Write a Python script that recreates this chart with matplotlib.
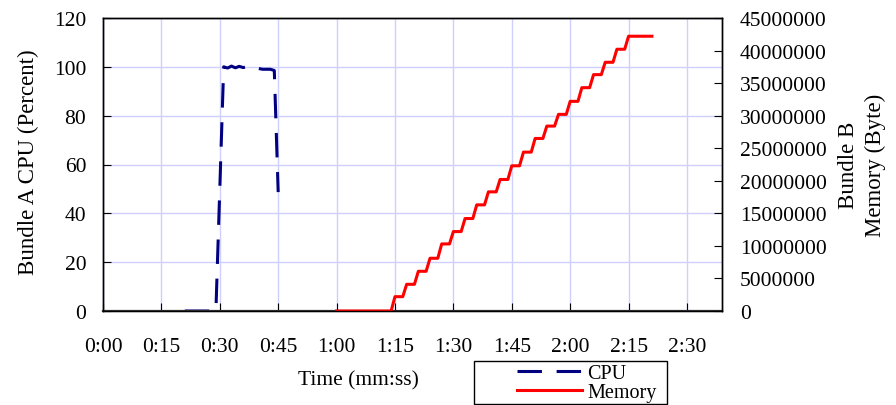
import matplotlib
matplotlib.use('Agg')
import matplotlib.pyplot as plt
import matplotlib.patches as mpatches

plt.rcParams['font.family'] = ['Liberation Serif', 'DejaVu Serif']
plt.rcParams['font.size'] = 15.5

# time axis (seconds) and labels
time_ticks = [0, 15, 30, 45, 60, 75, 90, 105, 120, 135, 150]
time_labels = ['0:00', '0:15', '0:30', '0:45', '1:00', '1:15', '1:30',
               '1:45', '2:00', '2:15', '2:30']

# Bundle A CPU (percent), one sample per second
cpu_time = [21, 22, 23, 24, 25, 26, 27, 28, 29, 30, 31, 32, 33, 34, 35, 36,
            37, 38, 39, 40, 41, 42, 43, 44, 45]
cpu_percent = [0, 0, 0, 0, 0, 0, 0, 0, 0, 50, 100, 99.5, 100.3, 99.6, 100.2,
               99.7, 100, 100, 100.3, 99.3, 99, 99, 99, 98.5, 48.7]

# Bundle B memory (bytes), one sample per second from 1:00
mem_time = list(range(60, 142))
mem_bytes = [
    0, 0, 0, 0, 0, 0, 0, 0, 0, 0, 0, 0, 0, 0, 0,
    2.2e6, 2.2e6, 2.2e6, 4.1e6, 4.1e6, 4.1e6, 6.1e6, 6.1e6, 6.1e6,
    8.1e6, 8.1e6, 8.1e6, 10.3e6, 10.3e6, 10.3e6, 12.2e6, 12.2e6, 12.2e6,
    14.2e6, 14.2e6, 14.2e6, 16.3e6, 16.3e6, 16.3e6, 18.3e6, 18.3e6, 18.3e6,
    20.2e6, 20.2e6, 20.2e6, 22.3e6, 22.3e6, 22.3e6, 24.4e6, 24.4e6, 24.4e6,
    26.5e6, 26.5e6, 26.5e6, 28.4e6, 28.4e6, 28.4e6, 30.2e6, 30.2e6, 30.2e6,
    32.2e6, 32.2e6, 32.2e6, 34.3e6, 34.3e6, 34.3e6, 36.3e6, 36.3e6, 36.3e6,
    38.2e6, 38.2e6, 38.2e6, 40.2e6, 40.2e6, 40.2e6,
    42.2e6, 42.2e6, 42.2e6, 42.2e6, 42.2e6, 42.2e6, 42.2e6,
]

W, H = 896, 406
fig = plt.figure(figsize=(W / 100, H / 100), dpi=100)
ax = fig.add_axes([103 / W, 1 - 312 / H, (722 - 103) / W, (312 - 19) / H])
ax2 = ax.twinx()

grid_color = '#d0d0ff'
ax.set_axisbelow(True)
ax.grid(True, color=grid_color, lw=1.0)

cpu_line, = ax.plot(cpu_time, cpu_percent, color='#000080', lw=2.2,
                    dashes=(8, 4.8), label='CPU')
mem_line, = ax2.plot(mem_time, mem_bytes, color='#ff0000', lw=2.2,
                     label='Memory')

ax.set_xlim(0, 159)
ax.set_ylim(0, 120)
ax.set_yticks([0, 20, 40, 60, 80, 100, 120])
ax.set_xticks(time_ticks)
ax.set_xticklabels(time_labels)
ax2.set_ylim(0, 45e6)
ax2.set_yticks([i * 5e6 for i in range(10)])
ax2.set_yticklabels(['%d' % v for v in ax2.get_yticks()])

ax.tick_params(axis='y', direction='in', length=6, pad=12, colors='black')
ax.tick_params(axis='x', direction='in', length=6, pad=19, colors='black')
ax2.tick_params(axis='y', direction='in', length=6, pad=13, colors='black')

for a in (ax, ax2):
    for s in a.spines.values():
        s.set_color('black')
        s.set_linewidth(1.0)
ax.spines['bottom'].set_linewidth(1.6)
ax.spines['bottom'].set_color('#333333')

ax.set_xlabel('Time (mm:ss)', va='center')
ax.xaxis.set_label_coords((358 - 103) / 619, (312 - 381) / 293)
ax.set_ylabel('Bundle A CPU (Percent)', va='center', ha='center',
              fontsize=16.5)
ax.yaxis.set_label_coords((28 - 103) / 619, 0.51)
ax2.set_ylabel('Bundle B\nMemory (Byte)', va='center', ha='center',
               linespacing=1.3, fontsize=16.5)
ax2.yaxis.set_label_coords((862 - 103) / 619, 0.5)

fig.legend(handles=[cpu_line, mem_line], loc='center', frameon=False,
           bbox_to_anchor=(587 / W, 1 - 384 / H), handlelength=3.2,
           handletextpad=0.3, labelspacing=0.0, borderpad=0, fontsize=14.5)
fig.add_artist(mpatches.Rectangle((474 / W, 1 - 405 / H), 193 / W, 43 / H,
                                  transform=fig.transFigure, fill=False,
                                  edgecolor='black', lw=1.0))

fig.savefig('out.png', dpi=100)
